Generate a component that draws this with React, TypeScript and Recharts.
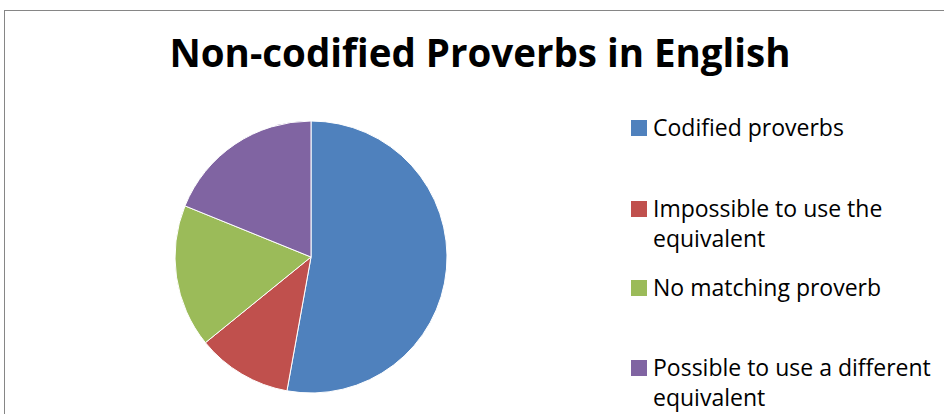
import React from 'react';
import { PieChart, Pie, Cell, Legend } from 'recharts';

const labels = [
  'Codified proverbs',
  'Impossible to use the equivalent',
  'No matching proverb',
  'Possible to use a different equivalent',
];
const values = [28, 6, 9, 10];
const colors = ['#4F81BD', '#C0504D', '#9BBB59', '#8064A2'];

const data = labels.map((name, i) => ({ name, value: values[i] }));

// top offset of each legend row inside the legend box
const rowTops = [112, 193, 272, 352];

const FONT = '"Open Sans", Lato, sans-serif';

const CustomLegend = ({ payload }: any) => (
  <div style={{ position: 'relative', width: '100%', height: '100%' }}>
    {(payload || []).map((entry: any, i: number) => (
      <div
        key={i}
        style={{
          position: 'absolute',
          left: 0,
          top: rowTops[i],
          width: 313,
          fontFamily: FONT,
          fontSize: 23,
          lineHeight: '30px',
          color: '#000',
        }}
      >
        <div
          style={{
            position: 'absolute',
            left: 0,
            top: 8,
            width: 16,
            height: 16,
            backgroundColor: colors[i],
          }}
        />
        <div style={{ marginLeft: 22, width: 292 }}>{entry.value}</div>
      </div>
    ))}
  </div>
);

const App = () => {
  return (
    <div
      style={{
        position: 'absolute',
        left: 0,
        top: 0,
        width: 944,
        height: 414,
        overflow: 'hidden',
        background: '#fff',
      }}
    >
      <div
        style={{
          position: 'absolute',
          left: 4,
          top: 10,
          width: 1000,
          height: 500,
          borderTop: '1px solid #868686',
          borderLeft: '1px solid #868686',
        }}
      />
      <div
        style={{
          position: 'absolute',
          left: 0,
          top: 30,
          width: 960,
          textAlign: 'center',
          fontFamily: FONT,
          fontWeight: 700,
          fontSize: 38.5,
          lineHeight: '44px',
          color: '#000',
        }}
      >
        Non-codified Proverbs in English
      </div>
      <div style={{ position: 'absolute', left: 0, top: 0 }}>
        <PieChart width={944} height={414} margin={{ top: 0, right: 0, bottom: 0, left: 0 }}>
          <Pie
            data={data}
            dataKey="value"
            nameKey="name"
            cx={311}
            cy={257}
            outerRadius={136}
            startAngle={90}
            endAngle={-270}
            stroke="#ffffff"
            strokeWidth={1}
            isAnimationActive={false}
          >
            {data.map((_, i) => (
              <Cell key={`cell-${i}`} fill={colors[i]} />
            ))}
          </Pie>
          <Legend
            content={<CustomLegend />}
            wrapperStyle={{ position: 'absolute', left: 631, top: 0, width: 313, height: 414 }}
          />
        </PieChart>
      </div>
    </div>
  );
};

export default App;
